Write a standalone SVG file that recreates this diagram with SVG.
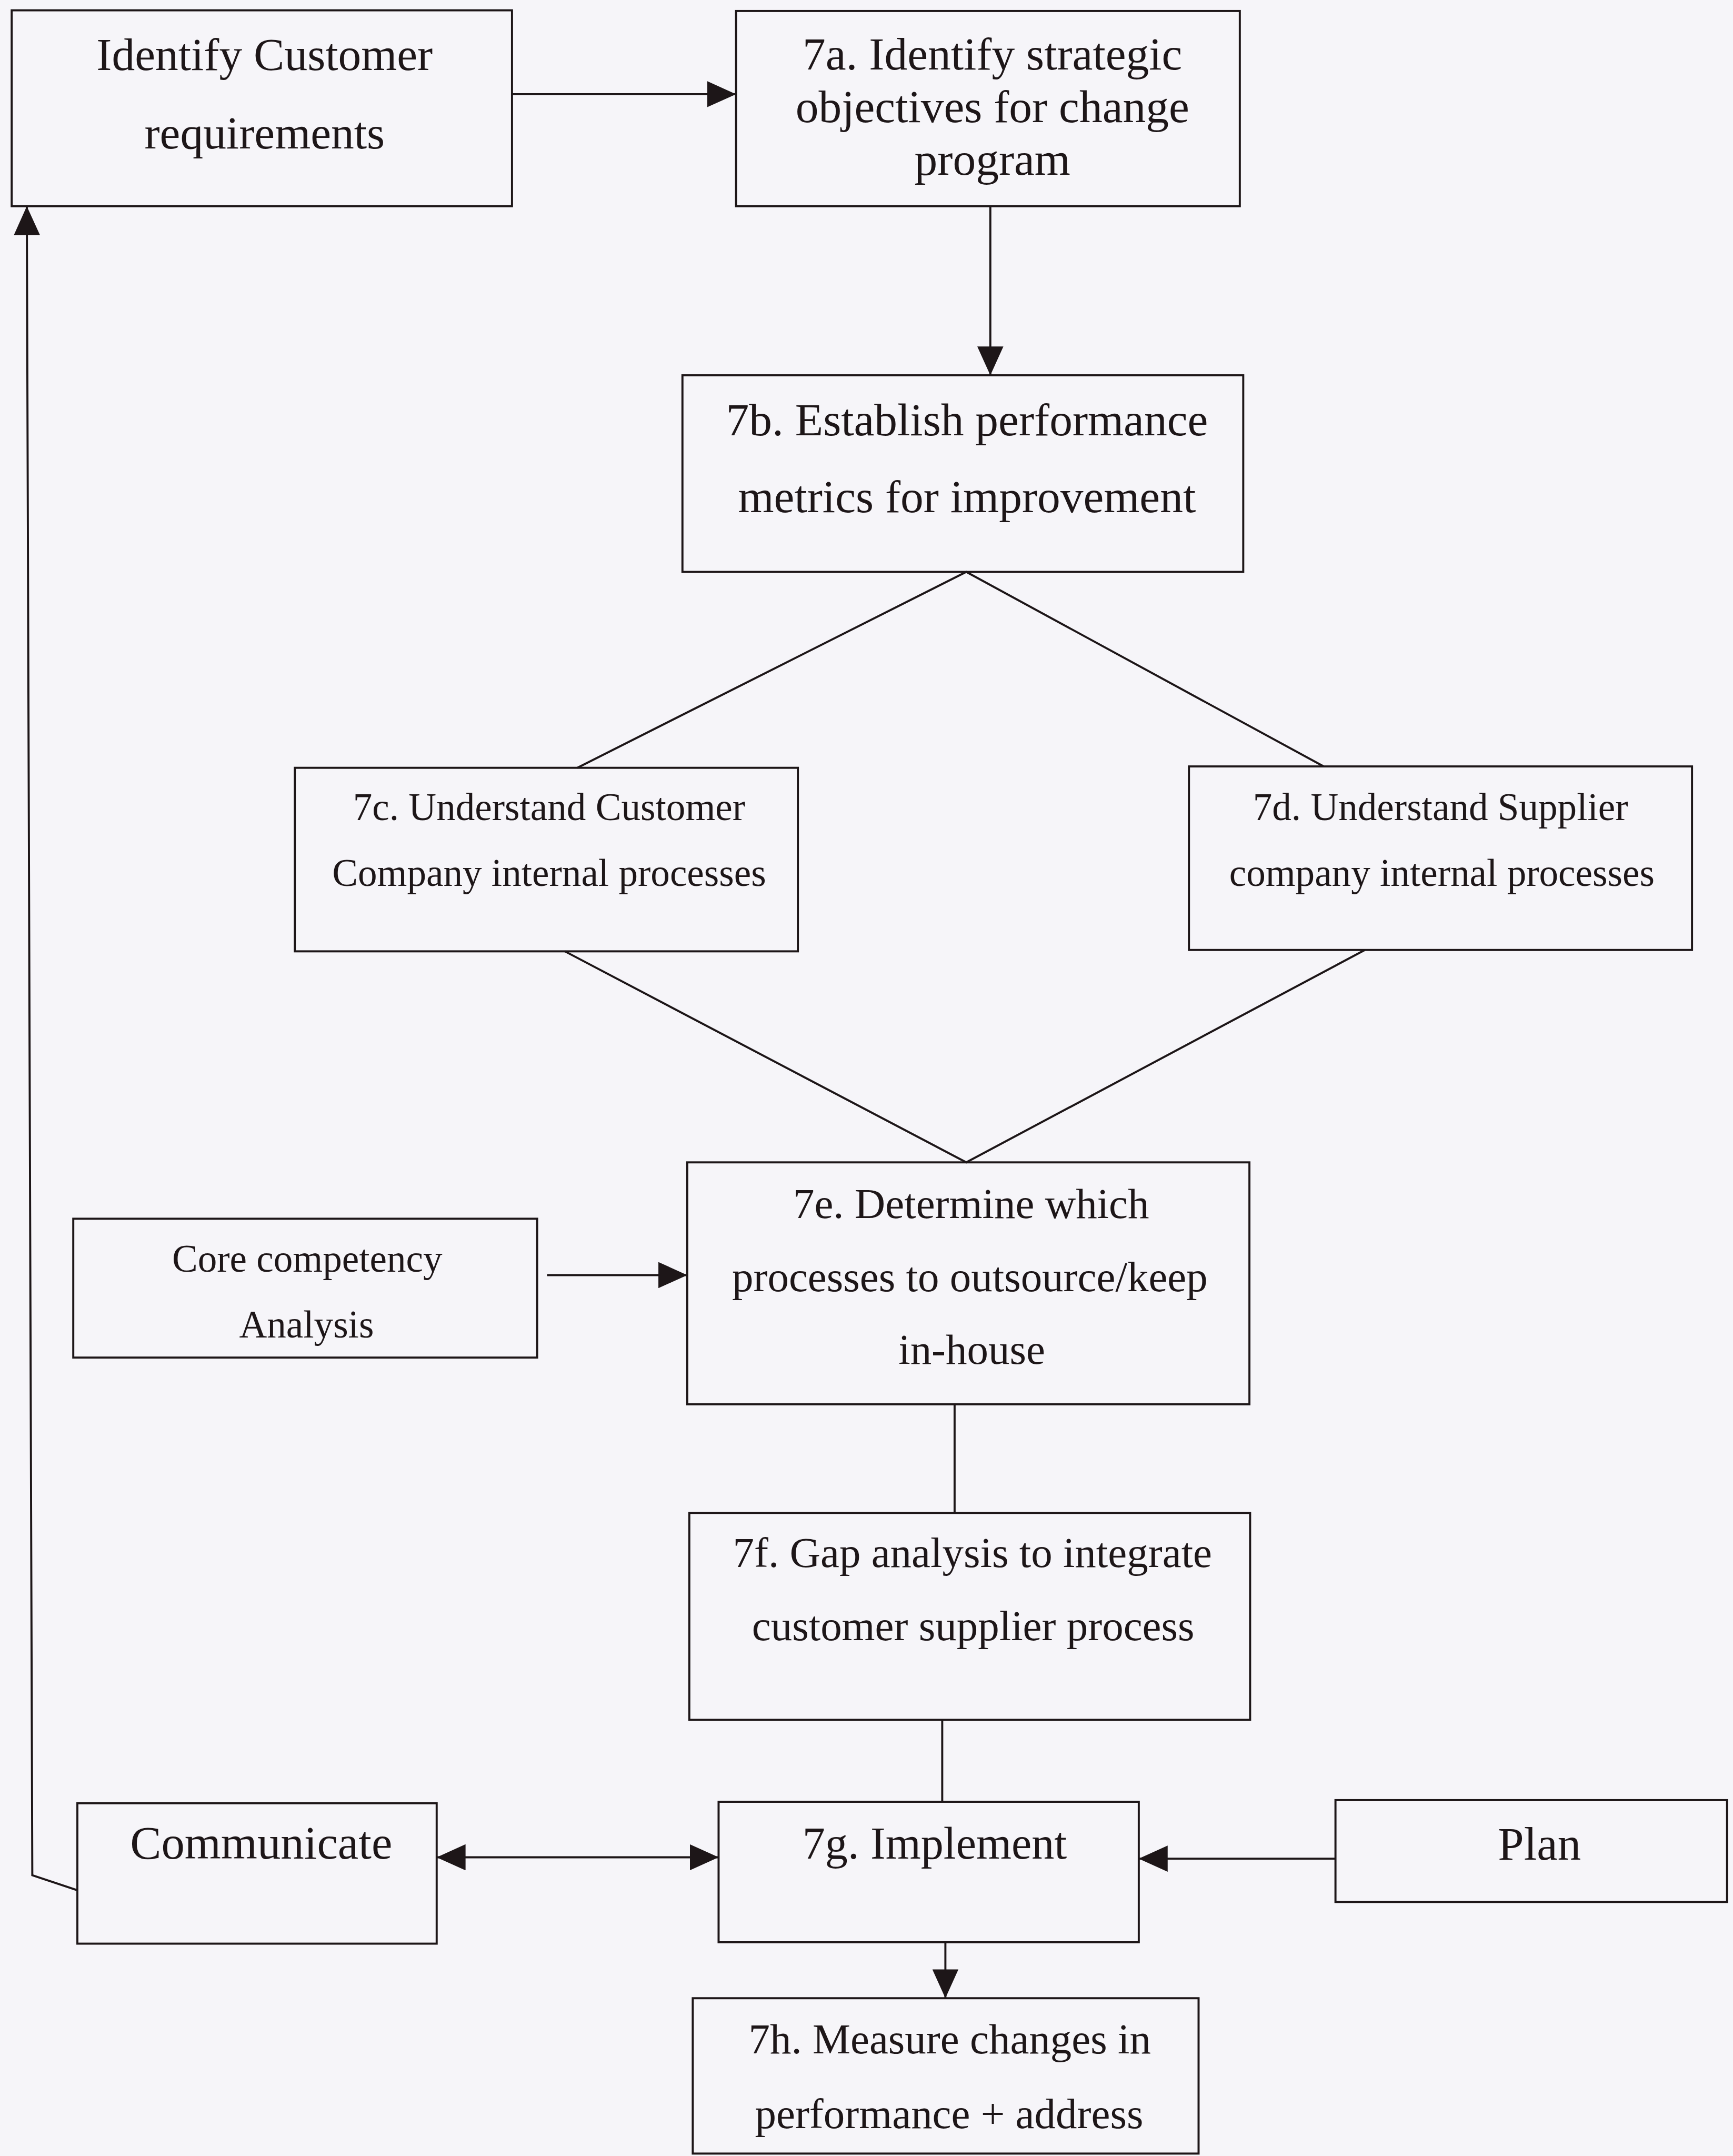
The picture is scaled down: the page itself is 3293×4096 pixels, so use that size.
<svg xmlns="http://www.w3.org/2000/svg" width="3293" height="4096" viewBox="0 0 3293 4096">
  <defs>
    <style>
      .box { fill: none; stroke: #1d1618; stroke-width: 1.5; }
      .con { fill: none; stroke: #1d1618; stroke-width: 1.5; }
      .t { font-family: "Liberation Serif", "Times New Roman", serif; fill: #1d1618; text-anchor: middle; }
      .s28 { font-size: 28px; }
      .s31 { font-size: 31px; }
      .s33 { font-size: 33px; }
      .s335 { font-size: 33.5px; }
      .s34 { font-size: 34px; }
    </style>
    <marker id="arrow" markerUnits="userSpaceOnUse" markerWidth="21" markerHeight="19" viewBox="0 0 21 19" refX="21" refY="9.5" orient="auto-start-reverse">
      <path d="M0,0 L21,9.5 L0,19 z" fill="#1d1618"/>
    </marker>
  </defs>

  <rect x="0" y="0" width="3293" height="4096" fill="#f6f5f9"/>

  <g transform="scale(2.6118)">
    <!-- connectors -->
    <g id="connectors">
      <line class="con" x1="372.5" y1="68.5" x2="535.5" y2="68.5" marker-end="url(#arrow)"/>
      <line class="con" x1="720.5" y1="150" x2="720.5" y2="273" marker-end="url(#arrow)"/>
      <polyline class="con" points="420,558.5 703,416 963,557.5"/>
      <polyline class="con" points="411,692 703,845.5 993,691"/>
      <line class="con" x1="398" y1="927.5" x2="500" y2="927.5" marker-end="url(#arrow)"/>
      <line class="con" x1="694.5" y1="1021.5" x2="694.5" y2="1100.5"/>
      <line class="con" x1="685.5" y1="1251" x2="685.5" y2="1310.6"/>
      <line class="con" x1="317.7" y1="1351" x2="522.8" y2="1351" marker-start="url(#arrow)" marker-end="url(#arrow)"/>
      <line class="con" x1="971.6" y1="1352" x2="828.5" y2="1352" marker-end="url(#arrow)"/>
      <line class="con" x1="687.8" y1="1412.8" x2="687.8" y2="1453.5" marker-end="url(#arrow)"/>
      <polyline class="con" points="56.3,1375 23.5,1364 19.5,150" marker-end="url(#arrow)"/>
    </g>

    <g id="node-identify-customer">
      <rect class="box" x="8.5" y="7.5" width="364" height="142.5"/>
      <text class="t s335" x="192.5" y="51">Identify Customer</text>
      <text class="t s335" x="192.5" y="108">requirements</text>
    </g>

    <g id="node-7a">
      <rect class="box" x="535.5" y="8" width="366.5" height="142"/>
      <text class="t s335" x="722" y="50.5">7a. Identify strategic</text>
      <text class="t s335" x="722" y="88.7">objectives for change</text>
      <text class="t s335" x="722" y="127">program</text>
    </g>

    <g id="node-7b">
      <rect class="box" x="496.5" y="273" width="408" height="143"/>
      <text class="t s335" x="703.5" y="316.5">7b. Establish performance</text>
      <text class="t s335" x="703.5" y="372.5">metrics for improvement</text>
    </g>

    <g id="node-7c">
      <rect class="box" x="214.5" y="558.5" width="366" height="133.5"/>
      <text class="t s28" x="399.5" y="596.5">7c. Understand Customer</text>
      <text class="t s28" x="399.5" y="644.5">Company internal processes</text>
    </g>

    <g id="node-7d">
      <rect class="box" x="865" y="557.5" width="366" height="133.5"/>
      <text class="t s28" x="1048" y="596.5">7d. Understand Supplier</text>
      <text class="t s28" x="1049" y="644.5">company internal processes</text>
    </g>

    <g id="node-core-competency">
      <rect class="box" x="53.3" y="886.5" width="337.5" height="101"/>
      <text class="t s28" x="223.5" y="925">Core competency</text>
      <text class="t s28" x="223" y="973">Analysis</text>
    </g>

    <g id="node-7e">
      <rect class="box" x="500" y="845.5" width="409" height="176"/>
      <text class="t s31" x="706.5" y="886">7e. Determine which</text>
      <text class="t s31" x="705.6" y="939.3">processes to outsource/keep</text>
      <text class="t s31" x="707" y="992">in-house</text>
    </g>

    <g id="node-7f">
      <rect class="box" x="501.5" y="1100.5" width="408" height="150.5"/>
      <text class="t s31" x="707.5" y="1139.7">7f. Gap analysis to integrate</text>
      <text class="t s31" x="708" y="1193">customer supplier process</text>
    </g>

    <g id="node-communicate">
      <rect class="box" x="56.3" y="1311.7" width="261.4" height="102.1"/>
      <text class="t s34" x="190" y="1352">Communicate</text>
    </g>

    <g id="node-7g">
      <rect class="box" x="522.8" y="1310.6" width="305.7" height="102.2"/>
      <text class="t s33" x="680" y="1352">7g. Implement</text>
    </g>

    <g id="node-plan">
      <rect class="box" x="971.6" y="1309.4" width="284.9" height="74.1"/>
      <text class="t s34" x="1120" y="1352.6">Plan</text>
    </g>

    <g id="node-7h">
      <rect class="box" x="504" y="1453.5" width="368" height="113"/>
      <text class="t s31" x="691" y="1493.7">7h. Measure changes in</text>
      <text class="t s31" x="690.5" y="1548">performance + address</text>
    </g>
  </g>
</svg>
